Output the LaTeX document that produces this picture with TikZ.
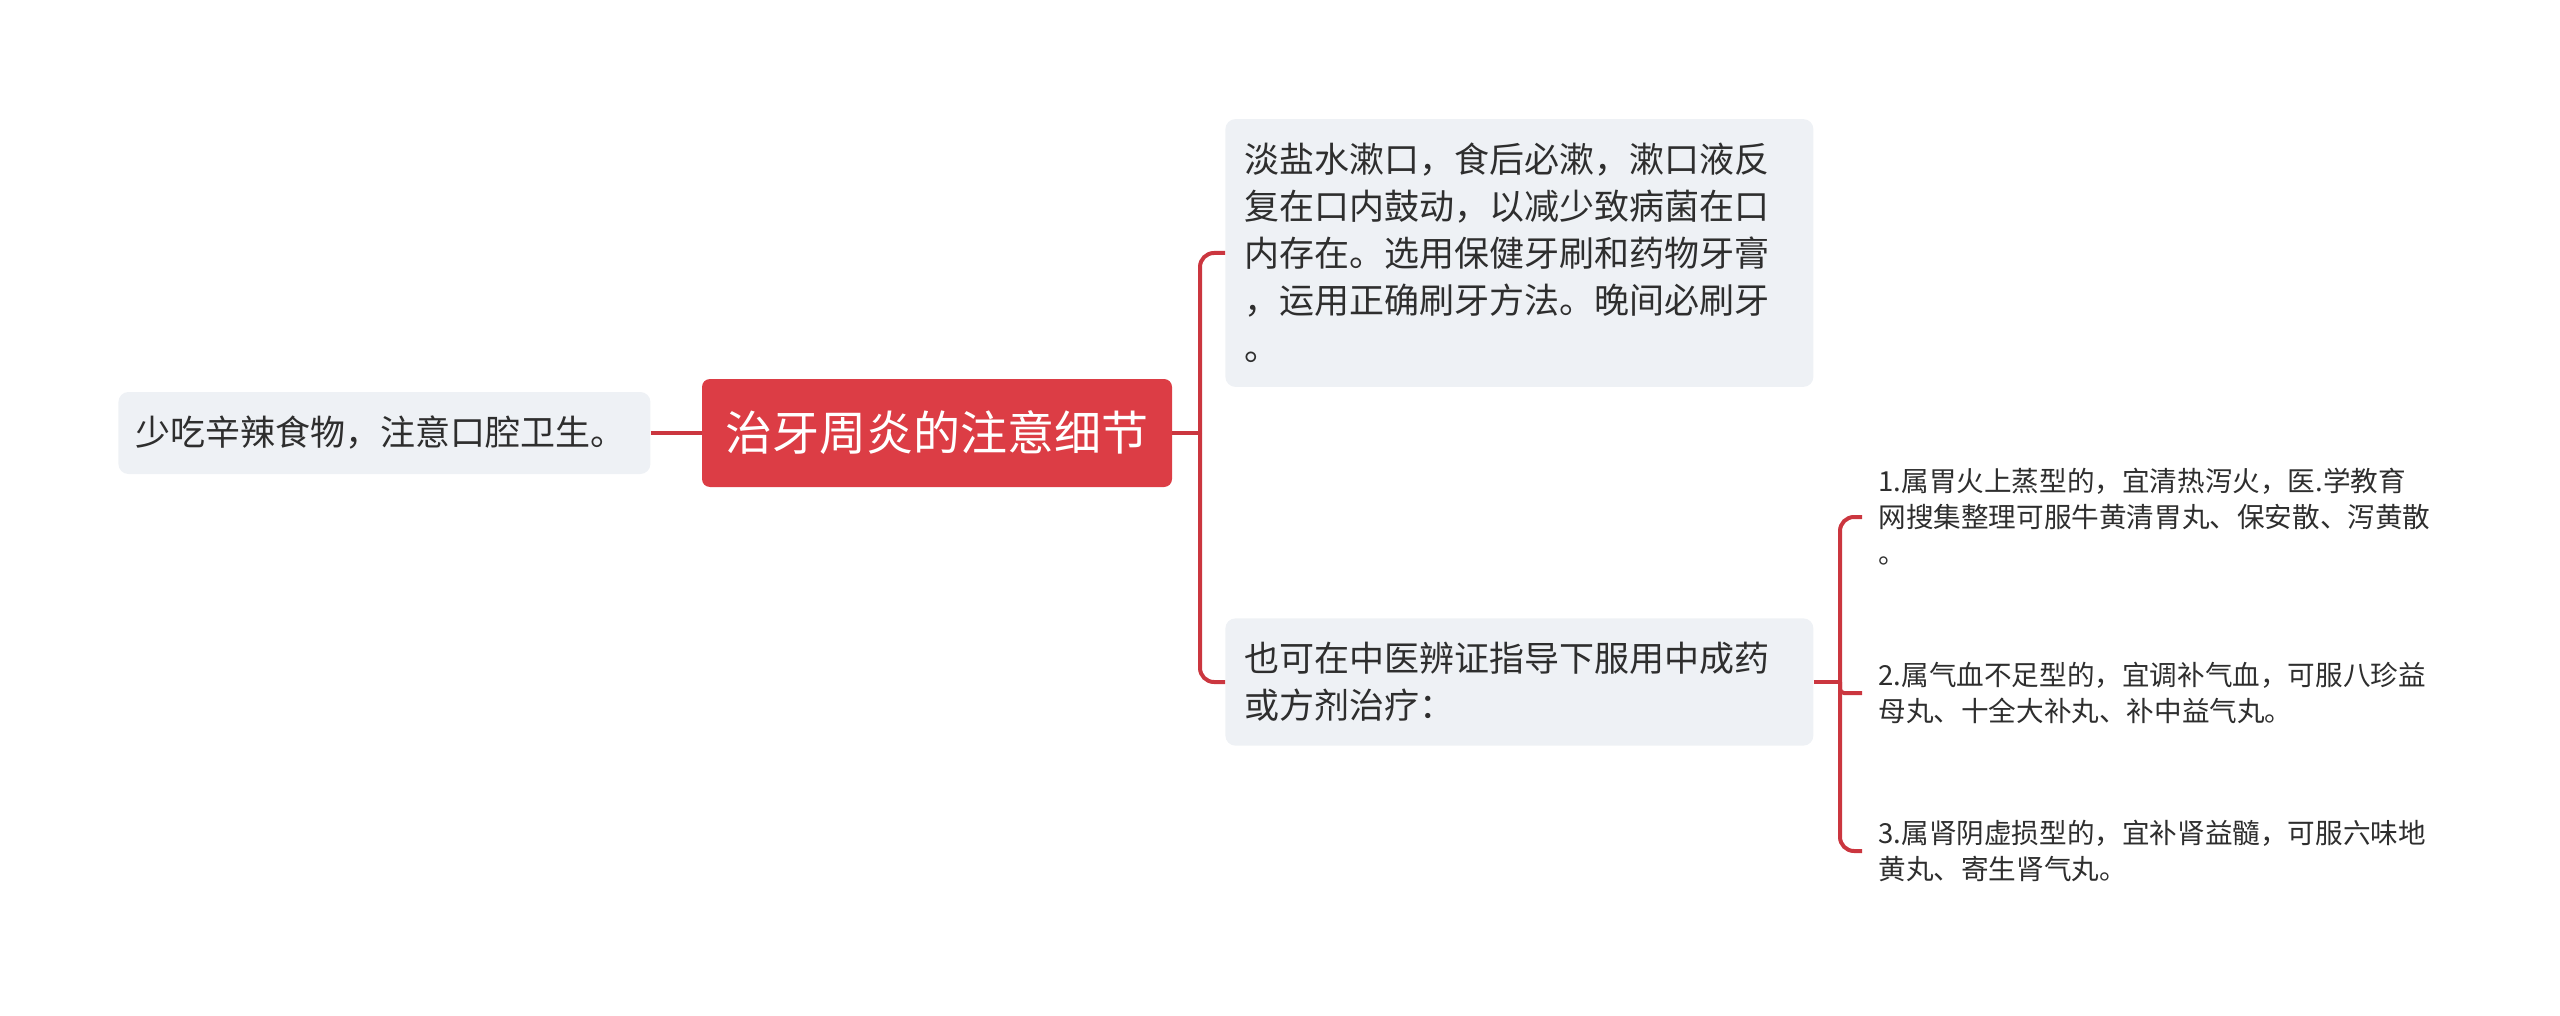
\documentclass[tikz,border=0pt]{standalone}
\usepackage{fontspec}
\setmainfont{Noto Sans CJK SC}
\definecolor{rootred}{HTML}{DC3D45}
\definecolor{linkred}{HTML}{CB363F}
\definecolor{boxgray}{HTML}{EEF1F5}
\definecolor{inkgray}{HTML}{2E2E2E}
\tikzset{
  topicbox/.style={fill=boxgray, rounded corners=5pt, text=inkgray, align=left, anchor=west,
    inner xsep=9.5pt, inner ysep=12pt, text width=275pt, font=\fontsize{17.5}{23.5}\selectfont},
  leafnote/.style={text=inkgray, align=left, anchor=west, inner xsep=8pt, inner ysep=2pt,
    text width=280pt, font=\fontsize{13.8}{18}\selectfont},
  link/.style={draw=linkred, line width=2pt},
}
\begin{document}
\begin{tikzpicture}[x=0.5pt, y=-0.5pt]
    \useasboundingbox (0, 0) rectangle (2560, 1016);
    % central topic and the left note
    \node[fill=rootred, text=white, rounded corners=4pt, minimum width=235pt, minimum height=54pt,
      inner sep=0pt, font=\fontsize{23.5}{28}\selectfont] (root) at (937, 433) {治牙周炎的注意细节};
    \node[topicbox, text width=249pt, inner xsep=8.5pt, inner ysep=0pt, minimum height=41pt] (diet) at (118, 433) {少吃辛辣食物，注意口腔卫生。};
    % right topics
    \node[topicbox] (rinse) at (1225, 253) {淡盐水漱口，食后必漱，漱口液反\\复在口内鼓动，以减少致病菌在口\\内存在。选用保健牙刷和药物牙膏\\，运用正确刷牙方法。晚间必刷牙\\。};
    \node[topicbox] (herbs) at (1225, 682) {也可在中医辨证指导下服用中成药\\或方剂治疗：};
    % leaves
    \node[leafnote] (stomach) at (1862, 517) {1.属胃火上蒸型的，宜清热泻火，医.学教育\\网搜集整理可服牛黄清胃丸、保安散、泻黄散\\。};
    \node[leafnote] (blood) at (1862, 693) {2.属气血不足型的，宜调补气血，可服八珍益\\母丸、十全大补丸、补中益气丸。};
    \node[leafnote] (kidney) at (1862, 851) {3.属肾阴虚损型的，宜补肾益髓，可服六味地\\黄丸、寄生肾气丸。};
    \coordinate (hub) at (1200, 433);
    \coordinate (fork) at (1840, 682);
    \draw[link] (diet.east) -- (root.west);
    \draw[link] (root.east) -- (hub);
    \draw[link, rounded corners=7pt] (hub) |- (rinse.west);
    \draw[link, rounded corners=7pt] (hub) |- (herbs.west);
    \draw[link] (herbs.east) -- (fork);
    \draw[link, rounded corners=7pt] (fork) |- (stomach.west);
    \draw[link, rounded corners=2pt] (fork) |- (blood.west);
    \draw[link, rounded corners=7pt] (fork) |- (kidney.west);
  \end{tikzpicture}
\end{document}
